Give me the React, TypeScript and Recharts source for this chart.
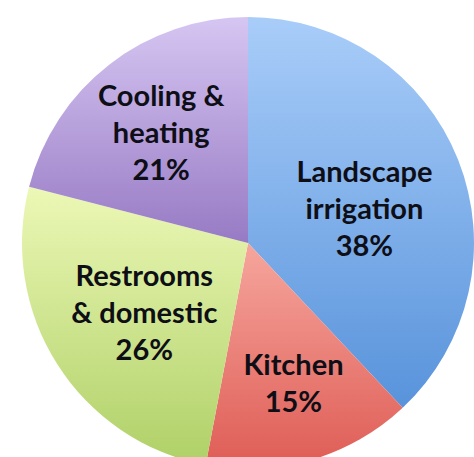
import { PieChart, Pie, Cell } from 'recharts';

const categories = ['Landscape irrigation', 'Kitchen', 'Restrooms & domestic', 'Cooling & heating'];
const shares = [38, 15, 26, 21];
const labelLines = [
  ['Landscape', 'irrigation', '38%'],
  ['Kitchen', '15%'],
  ['Restrooms', '& domestic', '26%'],
  ['Cooling &', 'heating', '21%'],
];

const data = categories.map((name, i) => ({ name, value: shares[i] }));

// top/bottom colours of each slice gradient
const fills = [
  ['#a9cdf9', '#5893db'],
  ['#f6a69d', '#de5c55'],
  ['#ecf8b6', '#afd067'],
  ['#d6c6f2', '#977ac4'],
];
// label placement: fraction of radius, angle nudge (deg)
const labelPos = [
  [0.53, -8],
  [0.68, 1],
  [0.57, 4],
  [0.6, 2],
];

const RAD = Math.PI / 180;

function SliceLabel(props: any) {
  const { cx, cy, midAngle, outerRadius, index } = props;
  const [f, nudge] = labelPos[index];
  const a = (midAngle + nudge) * RAD;
  const x = cx + outerRadius * f * Math.cos(a);
  const y = cy - outerRadius * f * Math.sin(a) - 8;
  const lines = labelLines[index];
  const lh = 37;
  const y0 = y - ((lines.length - 1) * lh) / 2;
  return (
    <text x={x} y={y0} textAnchor="middle" dominantBaseline="central" fill="#0e0e16"
      style={{ fontFamily: 'Lato, sans-serif', fontWeight: 700, fontSize: 29 }}>
      {lines.map((l, k) => (
        <tspan key={k} x={x} y={y0 + k * lh} dominantBaseline="central">{l}</tspan>
      ))}
    </text>
  );
}

export default function App() {
  return (
    <div style={{ width: 474, height: 457, background: '#fff' }}>
      <style>{`body{margin:0}`}</style>
      <PieChart width={474} height={457}>
        <defs>
          {fills.map(([t, b], i) => (
            <linearGradient key={i} id={`g${i}`} x1="0" y1="0" x2="0" y2="1">
              <stop offset="0%" stopColor={t} />
              <stop offset="100%" stopColor={b} />
            </linearGradient>
          ))}
        </defs>
        <Pie data={data} dataKey="value" nameKey="name" cx={243} cy={238} outerRadius={226}
          startAngle={90} endAngle={-270} stroke="none" label={SliceLabel} labelLine={false}
          isAnimationActive={false}>
          {data.map((d, i) => <Cell key={d.name} fill={`url(#g${i})`} />)}
        </Pie>
      </PieChart>
    </div>
  );
}
